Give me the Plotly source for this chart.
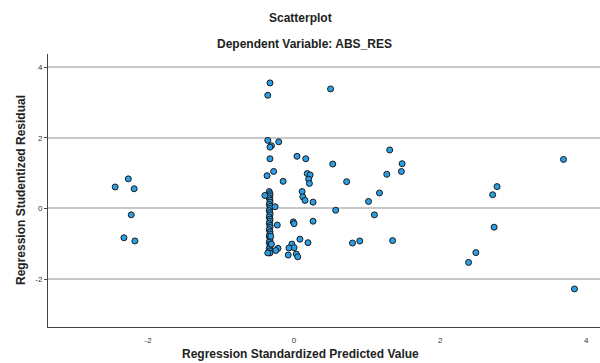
import plotly.graph_objects as go

# Regression Standardized Predicted Value (x) and Regression Studentized Residual (y)
x_left = [-2.45, -2.27, -2.19, -2.23, -2.33, -2.18]
y_left = [0.61, 0.84, 0.56, -0.18, -0.83, -0.92]

x_column = [-0.34, -0.33, -0.33, -0.34, -0.33, -0.33, -0.34, -0.33, -0.33, -0.34,
            -0.33, -0.33, -0.34, -0.33, -0.33, -0.34, -0.33, -0.33, -0.34, -0.33,
            -0.33, -0.34, -0.33, -0.33, -0.34, -0.33, -0.33, -0.34, -0.33, -0.33]
y_column = [0.48, 0.42, 0.36, 0.30, 0.24, 0.18, 0.12, 0.06, 0.00, -0.06,
            -0.12, -0.18, -0.24, -0.30, -0.36, -0.42, -0.48, -0.54, -0.60, -0.66,
            -0.72, -0.78, -0.84, -0.90, -0.96, -1.02, -1.08, -1.14, -1.20, -1.26]

x_mid = [-0.33, -0.36, 0.50, -0.36, -0.21, -0.31, -0.33, 1.31, -0.33, 0.04,
         0.16, 0.53, 1.48, 1.47, 1.27, -0.28, -0.37, 0.18, 0.22, 0.20,
         0.21, -0.15, 0.72, 1.17, 0.11, 0.12, -0.40, 0.15, 0.26, -0.26,
         1.02, 0.57, 1.10, -0.23, -0.01, 0.00, 0.26, 0.08, 0.19, 0.80,
         0.90, 1.35, -0.32, -0.31, -0.22, -0.25, -0.36, -0.03, 0.00, -0.07,
         -0.08, 0.03, 0.05]
y_mid = [3.56, 3.21, 3.39, 1.93, 1.89, 1.78, 1.74, 1.66, 1.41, 1.48,
         1.41, 1.26, 1.27, 1.05, 0.97, 1.05, 0.93, 0.99, 0.95, 0.83,
         0.71, 0.77, 0.76, 0.44, 0.48, 0.33, 0.37, 0.23, 0.18, 0.05,
         0.20, -0.05, -0.18, -0.47, -0.38, -0.43, -0.36, -0.87, -0.97, -0.98,
         -0.92, -0.91, -0.79, -1.01, -1.13, -1.19, -1.26, -1.01, -1.11, -1.12,
         -1.32, -1.29, -1.37]

x_right = [3.69, 2.78, 2.72, 2.74, 2.49, 2.39, 3.84]
y_right = [1.39, 0.62, 0.39, -0.53, -1.25, -1.53, -2.28]

x_vals = x_left + x_column + x_mid + x_right
y_vals = y_left + y_column + y_mid + y_right

tick_vals_x = [-2, 0, 2, 4]
tick_vals_y = [-2, 0, 2, 4]

FONT = "Liberation Sans, Arial, sans-serif"
W, H = 600, 363
ML, MR, MT, MB = 48, 0, 54, 36
plot_w = W - ML - MR
plot_h = H - MT - MB


def ann(text, px, py, angle=0):
    return dict(text=text, x=(px - ML) / plot_w, y=(H - MB - py) / plot_h,
                xref="paper", yref="paper", xanchor="center", yanchor="middle",
                showarrow=False, textangle=angle,
                font=dict(size=12, family=FONT, color="#222222"))


fig = go.Figure()
fig.add_trace(go.Scatter(
    x=x_vals, y=y_vals, mode="markers",
    marker=dict(size=6, color="#2A9FE8", line=dict(color="#1a1a1a", width=1)),
    showlegend=False, hoverinfo="skip", cliponaxis=False,
))

fig.update_layout(
    width=W, height=H,
    margin=dict(l=ML, r=MR, t=MT, b=MB),
    plot_bgcolor="white", paper_bgcolor="white",
    font=dict(family=FONT, color="#222222"),
    xaxis=dict(
        range=[-3.37, 4.19], tickvals=tick_vals_x, ticktext=[str(v) for v in tick_vals_x],
        showgrid=False, zeroline=False, showline=True, linecolor="#444444", linewidth=1,
        ticks="outside", ticklen=5, tickcolor="rgba(0,0,0,0)",
        tickfont=dict(size=8, color="#333333"),
        ticklabeloverflow="allow", automargin=False,
    ),
    yaxis=dict(
        range=[-3.36, 4.38], tickvals=tick_vals_y, ticktext=[str(v) for v in tick_vals_y],
        showgrid=True, gridcolor="#C8C8C8", gridwidth=1.5, zeroline=False,
        showline=True, linecolor="#444444", linewidth=1,
        ticks="outside", ticklen=3, tickcolor="#444444",
        tickfont=dict(size=8, color="#333333"), automargin=False,
    ),
    annotations=[
        ann("<b>Scatterplot</b>", 300, 18),
        ann("<b>Dependent Variable: ABS_RES</b>", 304, 44),
        ann("<b>Regression Standardized Predicted Value</b>", 300, 354),
        ann("<b>Regression Studentized Residual</b>", 21, 190, -90),
    ],
)

fig.write_html(
    "out.html",
    config={"displayModeBar": False},
    post_script="document.body.style.margin='0';document.body.style.padding='0';",
)
